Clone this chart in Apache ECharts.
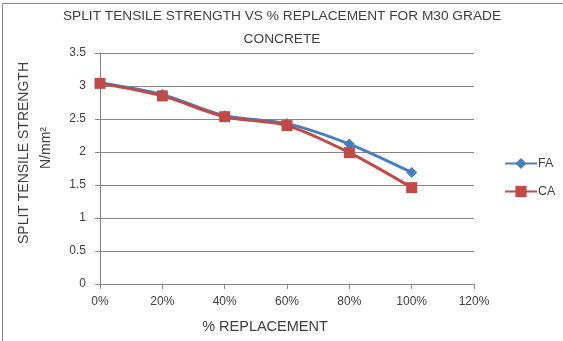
<!DOCTYPE html>
<html>
<head>
<meta charset="utf-8">
<script src="https://cdn.jsdelivr.net/npm/echarts@6/dist/echarts.min.js"></script>
<style>html,body{margin:0;padding:0;background:#fff}#c{width:563px;height:341px}</style>
</head>
<body>
<div id="c"></div>
<script>
var replacement = [0, 20, 40, 60, 80, 100];
var faValues = [3.05, 2.87, 2.55, 2.43, 2.12, 1.69];
var caValues = [3.04, 2.85, 2.535, 2.40, 1.99, 1.46];
var xTicks = [0, 20, 40, 60, 80, 100, 120];
var yTicks = [0, 0.5, 1, 1.5, 2, 2.5, 3, 3.5];
var titleLine1 = 'SPLIT TENSILE STRENGTH VS % REPLACEMENT FOR M30 GRADE';
var titleLine2 = 'CONCRETE';
var yName1 = 'SPLIT TENSILE STRENGTH';
var xName = '% REPLACEMENT';

var FONT = '"Liberation Sans", Arial, sans-serif';
var chart = echarts.init(document.getElementById('c'), null, {renderer: 'canvas'});
function pairs(vals) { return replacement.map(function (x, i) { return [x, vals[i]]; }); }

chart.setOption({
  animation: false,
  textStyle: {fontFamily: FONT},
  grid: {left: 100, right: 89, top: 53, bottom: 57},
  xAxis: {
    type: 'value', min: xTicks[0], max: xTicks[xTicks.length - 1], interval: 20,
    axisLine: {show: true, lineStyle: {color: '#868686', width: 1}},
    axisTick: {show: true, length: 5, lineStyle: {color: '#868686'}},
    axisLabel: {formatter: '{value}%', color: '#404040', fontSize: 12, margin: 12, fontFamily: FONT},
    splitLine: {show: false}
  },
  yAxis: {
    type: 'value', min: yTicks[0], max: yTicks[yTicks.length - 1], interval: 0.5,
    axisLine: {show: true, lineStyle: {color: '#868686', width: 1}},
    axisTick: {show: true, length: 5, lineStyle: {color: '#868686'}},
    axisLabel: {color: '#404040', fontSize: 12, margin: 14, fontFamily: FONT},
    splitLine: {show: true, lineStyle: {color: '#868686', width: 1}}
  },
  legend: {
    orient: 'vertical', left: 499, top: 152, itemWidth: 32, itemHeight: 14, itemGap: 15,
    textStyle: {color: '#404040', fontSize: 12.5, fontFamily: FONT, padding: [0, 0, 0, -4]},
    data: ['FA', 'CA']
  },
  series: [
    {name: 'FA', type: 'line', data: pairs(faValues), smooth: 0.3, symbol: 'diamond', symbolSize: 11,
     lineStyle: {color: '#4A7EBB', width: 3}, itemStyle: {color: '#4A7EBB'}},
    {name: 'CA', type: 'line', data: pairs(caValues), smooth: 0.3, symbol: 'rect', symbolSize: 11,
     lineStyle: {color: '#BE4B48', width: 3}, itemStyle: {color: '#BE4B48'}}
  ],
  graphic: [
    {type: 'rect', shape: {x: 2.5, y: 3.5, width: 600, height: 400}, style: {fill: null, stroke: '#8a8a8a', lineWidth: 1}, silent: true},
    {type: 'text', x: 282, y: 16, style: {text: titleLine1, font: '13.7px ' + FONT, fill: '#404040', align: 'center', verticalAlign: 'middle'}},
    {type: 'text', x: 282, y: 39, style: {text: titleLine2, font: '13.7px ' + FONT, fill: '#404040', align: 'center', verticalAlign: 'middle'}},
    {type: 'text', x: 24, y: 153, rotation: Math.PI / 2, style: {text: yName1, font: '14px ' + FONT, fill: '#404040', align: 'center', verticalAlign: 'middle'}},
    {type: 'text', x: 46, y: 148, rotation: Math.PI / 2, style: {text: 'N/mm\u00B2', font: '14px ' + FONT, fill: '#404040', align: 'center', verticalAlign: 'middle'}},
    {type: 'text', x: 265, y: 327, style: {text: xName, font: '14.5px ' + FONT, fill: '#404040', align: 'center', verticalAlign: 'middle'}}
  ]
});
</script>
</body>
</html>
